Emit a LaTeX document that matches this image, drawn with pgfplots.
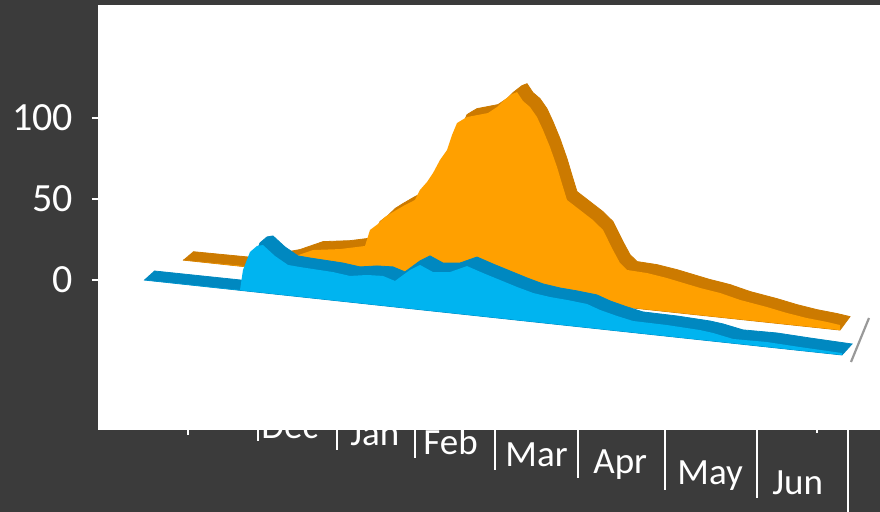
\documentclass[border=0pt]{standalone}
\usepackage{pgfplots}
\pgfplotsset{compat=1.18}
\usepackage{pgfplotstable}
\usepackage{fontspec}
\setmainfont{Carlito}
\definecolor{bg}{HTML}{3B3B3B}
\definecolor{olight}{HTML}{FFA000}
\definecolor{odark}{HTML}{CC7A00}
\definecolor{blight}{HTML}{00B4F0}
\definecolor{bdark}{HTML}{0088C0}

% orange series: front top outline (s=1), then front bottom edge (s=0)
\pgfplotstableread{
x y s
183 12.3 1
245 8.6 1
290 13.6 1
313 18.5 1
340 19.1 1
365 21.0 1
370 30.9 1
378 34.6 1
385 38.9 1
393 42.0 1
405 46.3 1
415 49.4 1
420 55.6 1
427 60.5 1
433 66.0 1
440 74.1 1
447 80.2 1
452 89.5 1
457 96.9 1
462 98.8 1
467 100.6 1
488 103.1 1
497 106.8 1
503 110.5 1
512 114.8 1
517 116.0 1
523 110.5 1
530 106.8 1
537 100.6 1
543 92.6 1
550 82.1 1
557 69.8 1
563 57.4 1
567 49.4 1
580 43.2 1
593 37.0 1
603 30.9 1
613 18.5 1
620 10.5 1
627 6.2 1
647 4.3 1
667 1.2 1
700 -4.9 1
720 -8.0 1
740 -12.3 1
767 -16.7 1
787 -20.4 1
807 -23.5 1
827 -25.9 1
840 -27.8 1
840 -30.9 0
183 12.3 0
}\orangedata

% blue series
\pgfplotstableread{
x y s
144 0 1
240 -6.2 1
243 6.2 1
250 17.3 1
257 21.0 1
263 21.6 1
275 14.8 1
288 9.3 1
300 8.0 1
333 4.9 1
350 2.5 1
367 3.1 1
383 2.5 1
395 -0.6 1
410 6.2 1
420 9.3 1
433 4.9 1
450 4.9 1
467 8.6 1
483 4.3 1
500 0 1
517 -4.3 1
533 -8.0 1
550 -10.5 1
567 -12.3 1
587 -14.8 1
600 -18.5 1
617 -22.2 1
633 -25.3 1
667 -27.8 1
700 -30.9 1
713 -32.7 1
733 -36.4 1
767 -38.3 1
800 -41.4 1
842 -45.1 1
842 -46.3 0
144 0 0
}\bluedata

\begin{document}
\begin{tikzpicture}
\fill[bg] (0,0) rectangle (440pt,256pt);
\begin{scope}[x=0.5pt,y=-0.5pt,shift={(0,256pt)}]
  \tikzset{lab/.style={anchor=base west,inner sep=0pt,text=white,font=\fontsize{18.5}{22}\selectfont}}
  \node[lab] at (261,439) {Dec};
  \node[lab] at (350,446) {Jan};
  \node[lab] at (423,455) {Feb};
  \node[lab] at (505,467) {Mar};
  \node[lab] at (593,474) {Apr};
  \node[lab] at (677,485) {May};
  \node[lab] at (772,495) {Jun};
  \begin{scope}[white,line width=1.2pt]
  \draw (188,428)--(188,435);
  \draw (258,428)--(258,441);
  \draw (337,428)--(337,450);
  \draw (415,428)--(415,458);
  \draw (495,428)--(495,470);
  \draw (578,428)--(578,478);
  \draw (665,428)--(665,490);
  \draw (757,428)--(757,498);
  \draw (817,428)--(817,433);
  \draw (848,428)--(848,512);
  \end{scope}
\end{scope}
\begin{axis}[
  at={(49pt,41pt)}, anchor=south west,
  width=391pt, height=212.5pt, scale only axis,
  xmin=98, xmax=880, ymin=-92.6, ymax=169.8,
  axis background/.style={fill=white},
  axis line style={draw=none},
  xtick=\empty,
  ytick={0,50,100},
  yticklabel style={font=\fontsize{20}{24}\selectfont, text=white, xshift=-6pt},
  y tick style={white, line width=1pt},
  major tick length=3pt, tick align=outside,
  /pgf/number format/assume math mode=true,
  no markers,
]
% orange: top face / back (dark), then front face (light)
\addplot[fill=odark, draw=odark, line width=0.4pt]
  table[x expr=\thisrow{x}+10*\thisrow{s}, y expr=\thisrow{y}+5.2*\thisrow{s}] {\orangedata};
\addplot[fill=olight, draw=none] table[x=x, y=y] {\orangedata};
% blue
\addplot[fill=bdark, draw=bdark, line width=0.4pt]
  table[x expr=\thisrow{x}+10*\thisrow{s}, y expr=\thisrow{y}+5.6*\thisrow{s}] {\bluedata};
\addplot[fill=blight, draw=none] table[x=x, y=y] {\bluedata};
\end{axis}
\begin{scope}[x=0.5pt,y=-0.5pt,shift={(0,256pt)}]
  \draw[gray!80, line width=1.1pt] (851,362)--(869,318);
\end{scope}
\pgfresetboundingbox
\useasboundingbox (0,0) rectangle (440pt,256pt);
\end{tikzpicture}
\end{document}
